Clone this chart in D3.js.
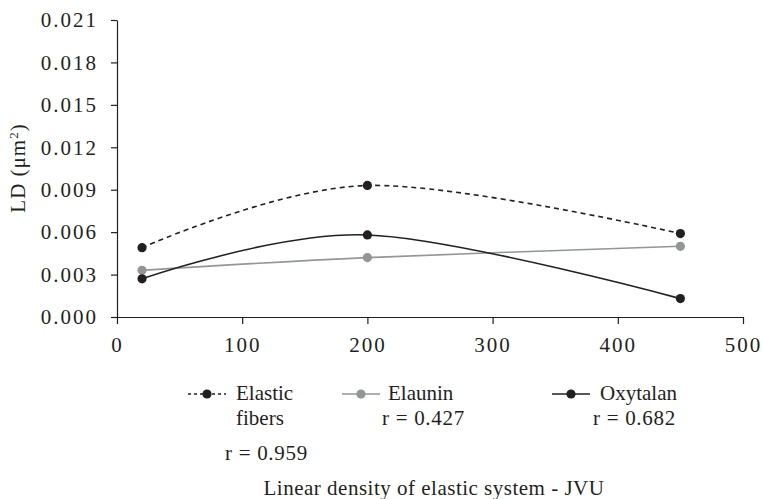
<!DOCTYPE html>
<html>
<head>
<meta charset="utf-8">
<script src="https://cdn.jsdelivr.net/npm/d3@7"></script>
<style>
    body { margin: 0; background: #fff; }
    text { font-family: "Liberation Serif", "Times New Roman", serif; fill: #231f20; }
</style>
</head>
<body>
<div id="chart"></div>
<script>
const xValues = [20, 200, 450]
const elasticFibers = [0.0049, 0.0093, 0.0059]
const elaunin = [0.0033, 0.0042, 0.0050]
const oxytalan = [0.0027, 0.0058, 0.0013]

const seriesNames = ["Elastic fibers", "Elaunin", "Oxytalan"]
const rValues = ["r = 0.959", "r = 0.427", "r = 0.682"]
const yTicks = [0, 0.003, 0.006, 0.009, 0.012, 0.015, 0.018, 0.021]
const xTicks = [0, 100, 200, 300, 400, 500]

const series = [
    { name: seriesNames[0], values: elasticFibers, color: "#231f20", dash: "5,4", legendDash: "3,3" },
    { name: seriesNames[1], values: elaunin, color: "#939598", dash: null, legendDash: null },
    { name: seriesNames[2], values: oxytalan, color: "#231f20", dash: null, legendDash: null }
]

const W = 762, H = 499
const margin = { top: 20, right: 19, bottom: 182, left: 117 }
const width = W - margin.left - margin.right
const height = H - margin.top - margin.bottom
const fontSize = 21

const svg = d3.select("#chart")
    .append("svg")
    .attr("width", W)
    .attr("height", H)

const g = svg.append("g")
    .attr("transform", `translate(${margin.left},${margin.top})`)

const x = d3.scaleLinear()
    .domain([0, 500])
    .range([0, width])

const y = d3.scaleLinear()
    .domain([0, 0.021])
    .range([height, 0])

// axes
g.append("g")
    .call(d3.axisLeft(y).tickValues(yTicks).tickFormat(d3.format(".3f")).tickSize(6).tickSizeOuter(0).tickPadding(13))
g.append("g")
    .attr("transform", `translate(0,${height})`)
    .call(d3.axisBottom(x).tickValues(xTicks).tickSize(7).tickSizeOuter(0).tickPadding(13))

g.selectAll(".domain, .tick line")
    .attr("stroke", "#231f20")
    .attr("stroke-width", 1.2)
g.selectAll(".tick text")
    .attr("font-family", null)
    .style("font-size", fontSize + "px")
    .style("letter-spacing", "2px")
    .attr("fill", "#231f20")

const line = d3.line()
    .x((d, i) => x(xValues[i]))
    .y(d => y(d))
    .curve(d3.curveCardinal.tension(0))

series.forEach(s => {
    g.append("path")
        .datum(s.values)
        .attr("fill", "none")
        .attr("stroke", s.color)
        .attr("stroke-width", 1.6)
        .attr("stroke-dasharray", s.dash)
        .attr("d", line)

    g.selectAll(null)
        .data(s.values)
        .enter().append("circle")
        .attr("cx", (d, i) => x(xValues[i]))
        .attr("cy", d => y(d))
        .attr("r", 4.6)
        .attr("fill", s.color)
})

// legend
const legendItems = [
    { lx: 188, tx: 236, lines: ["Elastic", "fibers"], rx: 225, ry: 460 },
    { lx: 342, tx: 388, lines: ["Elaunin"], rx: 382, ry: 425 },
    { lx: 552, tx: 600, lines: ["Oxytalan"], rx: 593, ry: 425 }
]
const legendY = 394

legendItems.forEach((item, i) => {
    const s = series[i]
    svg.append("line")
        .attr("x1", item.lx)
        .attr("x2", item.lx + 38)
        .attr("y1", legendY)
        .attr("y2", legendY)
        .attr("stroke", s.color)
        .attr("stroke-width", 1.6)
        .attr("stroke-dasharray", s.legendDash)
    svg.append("circle")
        .attr("cx", item.lx + 19)
        .attr("cy", legendY)
        .attr("r", 4.6)
        .attr("fill", s.color)
    item.lines.forEach((t, j) => {
        svg.append("text")
            .attr("x", item.tx)
            .attr("y", 400 + j * 25)
            .style("font-size", fontSize + "px")
            .text(t)
    })
    svg.append("text")
        .attr("x", item.rx)
        .attr("y", item.ry)
        .style("font-size", fontSize + "px")
        .style("letter-spacing", "0.7px")
        .text(rValues[i])
})

// axis titles
svg.append("text")
    .attr("x", 434)
    .attr("y", 495)
    .attr("text-anchor", "middle")
    .style("font-size", fontSize + "px")
    .style("letter-spacing", "0.5px")
    .text("Linear density of elastic system - JVU")

const yTitle = svg.append("text")
    .attr("transform", "translate(25,168) rotate(-90)")
    .attr("text-anchor", "middle")
    .style("font-size", fontSize + "px")
    .style("letter-spacing", "1px")
yTitle.append("tspan").text("LD (μm")
yTitle.append("tspan").attr("baseline-shift", "super").style("font-size", "13px").text("2")
yTitle.append("tspan").text(")")
</script>
</body>
</html>
